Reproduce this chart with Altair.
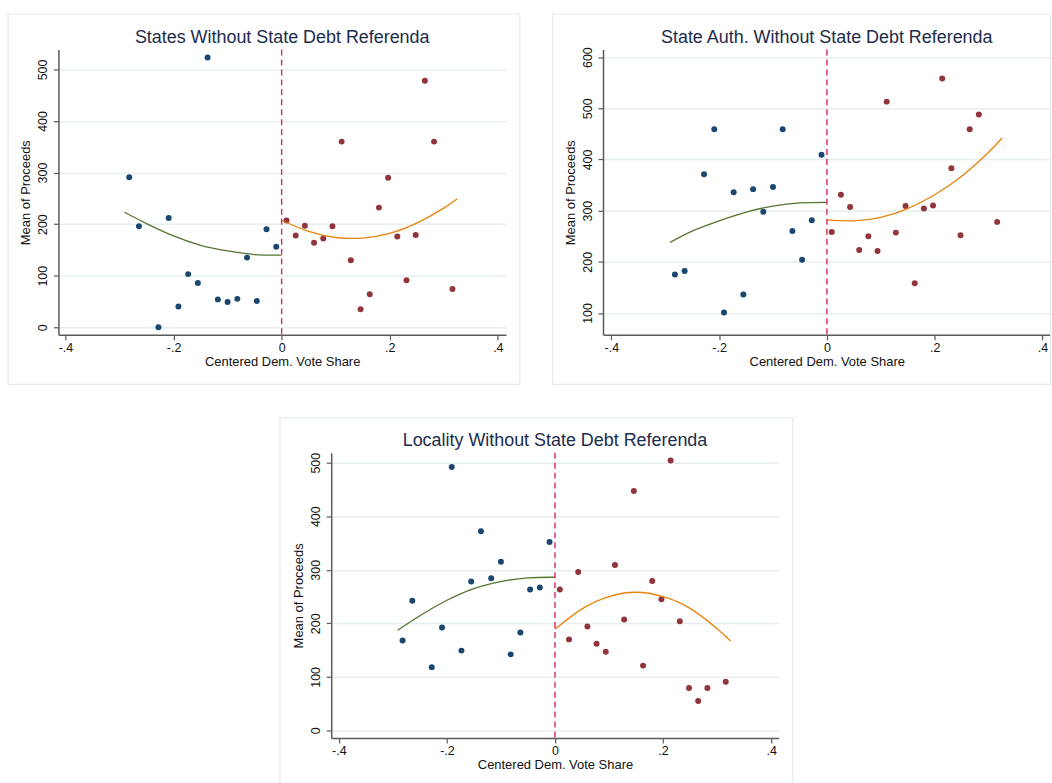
import altair as alt
import pandas as pd

# ---- data ----
bin_x_left = [-0.282, -0.264, -0.228, -0.209, -0.191, -0.173, -0.155, -0.137,
              -0.118, -0.100, -0.082, -0.064, -0.046, -0.028, -0.010]
bin_x_right = [0.009, 0.026, 0.043, 0.060, 0.077, 0.094, 0.111, 0.128, 0.146,
               0.163, 0.180, 0.197, 0.214, 0.231, 0.248, 0.265, 0.282, 0.316]

states_left = [291, 196, 0, 212, 40, 103, 86, 523, 54, 49, 55, 135, 51, 190, 156]
states_right = [207, 178, 197, 164, 172, 196, 360, 130, 35, 64, 232, 290, 176, 91,
                179, 478, 360, 74]

auth_left = [175, 182, 371, 459, 101, 336, 136, 342, 298, 346, 459, 260, 204, 281, 409]
auth_right = [258, 331, 307, 223, 250, 221, 513, 257, 309, 158, 304, 310, 558, 383,
              252, 459, 488, 278]

local_left = [168, 242, 118, 192, 492, 149, 278, 372, 284, 315, 142, 183, 263, 267, 352]
local_right = [263, 170, 296, 194, 162, 147, 309, 207, 447, 121, 279, 245, 504, 204,
               79, 55, 79, 91]

fit_x_left = [-0.291, -0.25, -0.2, -0.15, -0.1, -0.05, 0.0]
fit_x_right = [0.0, 0.05, 0.1, 0.15, 0.2, 0.25, 0.3, 0.325]

states_fit_left = [223, 201, 177, 159, 148, 141, 140]
states_fit_right = [207, 186, 174, 173, 182, 202, 231, 249]
auth_fit_left = [238, 260, 280, 297, 309, 315, 316]
auth_fit_right = [282, 280, 287, 304, 331, 367, 414, 442]
local_fit_left = [187, 214, 243, 265, 278, 285, 286]
local_fit_right = [189, 227, 250, 258, 250, 228, 190, 167]

x_ticks = [-0.4, -0.2, 0, 0.2, 0.4]
y_ticks_a = [0, 100, 200, 300, 400, 500]
y_ticks_b = [100, 200, 300, 400, 500, 600]

titles = ["States Without State Debt Referenda",
          "State Auth. Without State Debt Referenda",
          "Locality Without State Debt Referenda"]

# ---- styling ----
W, H = 449.5, 286.6
FONT = "Liberation Sans"
NAVY, MAROON = "#1a476f", "#90353b"
GREEN, ORANGE = "#55752f", "#e8830c"
DASH = "#d42a5f"
FRAME = "#e3ebee"
TITLE_COLOR = "#1c2c4c"
SHIFT = 221  # horizontal indent of the bottom panel

x_label_expr = ("datum.value == 0 ? '0' : (datum.value < 0 ? '-' : '') + "
                "replace(format(abs(datum.value), '.1f'), '0.', '.')")


def panel(title, yl, yr, fl, fr, xdom, ydom, yticks, frame):
    xs = alt.Scale(domain=xdom, nice=False, zero=False)
    ys = alt.Scale(domain=ydom, nice=False, zero=False)
    xaxis = alt.Axis(values=x_ticks, title="Centered Dem. Vote Share",
                     labelExpr=x_label_expr, grid=False, labelPadding=2, titlePadding=1)
    yaxis = alt.Axis(values=yticks, title="Mean of Proceeds", grid=True,
                     labelAngle=270, labelAlign="center", labelBaseline="bottom")

    def X(f):
        return alt.X(f, type="quantitative", scale=xs, axis=xaxis)

    def Y(f):
        return alt.Y(f, type="quantitative", scale=ys, axis=yaxis)

    pl = pd.DataFrame({"x": bin_x_left, "y": yl})
    pr = pd.DataFrame({"x": bin_x_right, "y": yr})
    cl = pd.DataFrame({"x": fit_x_left, "y": fl})
    cr = pd.DataFrame({"x": fit_x_right, "y": fr})

    fx, fx2, fy, fy2 = frame
    layers = [
        alt.Chart(alt.Data(values=[{}])).mark_rect(
            fillOpacity=0, stroke=FRAME, strokeWidth=1.2
        ).encode(x=alt.value(fx), x2=alt.value(fx2), y=alt.value(fy), y2=alt.value(fy2)),
        alt.Chart(alt.Data(values=[{"t": title}])).mark_text(
            font=FONT, fontSize=18, color=TITLE_COLOR, align="center", baseline="alphabetic"
        ).encode(text="t:N", x=alt.value(W / 2), y=alt.value(-6.7)),
        alt.Chart(pl).mark_circle(size=36, opacity=1, color=NAVY).encode(x=X("x"), y=Y("y")),
        alt.Chart(pr).mark_circle(size=36, opacity=1, color=MAROON).encode(x=X("x"), y=Y("y")),
        alt.Chart(cl).mark_line(color=GREEN, strokeWidth=1.3, interpolate="natural").encode(
            x=X("x"), y=Y("y")),
        alt.Chart(cr).mark_line(color=ORANGE, strokeWidth=1.3, interpolate="natural").encode(
            x=X("x"), y=Y("y")),
        alt.Chart(pd.DataFrame({"x": [0.0]})).mark_rule(
            color=DASH, strokeDash=[6, 4], strokeWidth=1.4
        ).encode(x=X("x"), y=alt.value(0), y2=alt.value(H)),
    ]

    return alt.layer(*layers).properties(width=W, height=H)


p1 = panel(titles[0], states_left, states_right, states_fit_left, states_fit_right,
           [-0.413, 0.415], [-14.8, 538.6], y_ticks_a, (-50.6, W + 13.9, -35.7, H + 49.7))
p2 = panel(titles[1], auth_left, auth_right, auth_fit_left, auth_fit_right,
           [-0.4155, 0.415], [57.2, 614.8], y_ticks_b, (-50.6, W + 0.2, -35.7, H + 49.7))
p3 = panel(titles[2], local_left, local_right, local_fit_left, local_fit_right,
           [-0.414, 0.414], [-14.3, 518.6], y_ticks_a, (-51.5, W + 14.0, -35.0, H + 45.4))

# empty, invisible cell that indents the bottom panel
spacer = alt.Chart(alt.Data(values=[{}])).mark_rect(opacity=0).encode(
    x=alt.value(0), x2=alt.value(SHIFT), y=alt.value(0), y2=alt.value(1)
).properties(width=SHIFT, height=1)

row1 = alt.hconcat(p1, p2, spacing=31)
row2 = alt.hconcat(spacer, p3, spacing=0)
chart = alt.vconcat(row1, row2, spacing=32).properties(
    padding={"left": 6.7, "top": 11, "right": 0, "bottom": 0},
    background="white",
).configure_view(stroke=None).configure_axis(
    labelFont=FONT, titleFont=FONT, labelFontSize=12.5, titleFontSize=13,
    labelColor="#111111", titleColor="#111111", titleFontWeight="normal",
    domainColor="#5a5a5a", domainWidth=1.5, tickColor="#5a5a5a", tickWidth=1.2,
    tickSize=5, gridColor="#e6eef0", gridWidth=1.5, labelPadding=4, titlePadding=4,
)

chart.save("out.html", embed_options={"renderer": "svg", "actions": False})
